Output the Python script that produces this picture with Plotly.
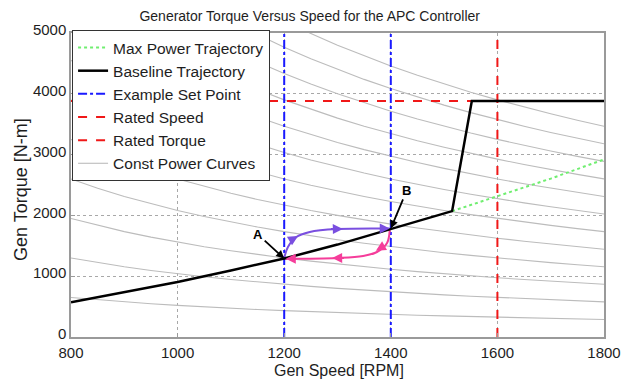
import plotly.graph_objects as go

# ---- data ----
base_speed = [800, 900, 1000, 1100, 1200, 1300, 1400, 1515, 1552, 1800]
base_torque = [570, 735, 905, 1095, 1290, 1520, 1775, 2070, 3880, 3880]

maxp_speed = [1515, 1600, 1700, 1800]
maxp_torque = [2070, 2310, 2605, 2920]

set_points = [1200, 1400]
rated_speed = 1600
rated_torque = 3880
knee_speed = 1552

# constant power levels (torque*speed, N-m*RPM)
power_levels = [0.52e6, 1.04e6, 1.56e6, 2.08e6, 2.60e6, 3.12e6,
                3.64e6, 4.16e6, 4.68e6, 5.20e6, 5.72e6, 6.24e6]
curve_speeds = [800, 850, 900, 950, 1000, 1050, 1100, 1150, 1200, 1250, 1300,
                1350, 1400, 1450, 1500, 1550, 1600, 1650, 1700, 1750, 1800]

purple_speed = [1200, 1207, 1222, 1248, 1300, 1398]
purple_torque = [1300, 1480, 1640, 1727, 1776, 1785]
pink_speed = [1398, 1393, 1374, 1348, 1300, 1202]
pink_torque = [1770, 1546, 1398, 1332, 1299, 1285]

x_ticks = [800, 1000, 1200, 1400, 1600, 1800]
y_ticks = [0, 1000, 2000, 3000, 4000, 5000]

FONT = "Liberation Sans, Arial, sans-serif"
TXT = "#1e1e1e"

fig = go.Figure()

# constant power curves
cx, cy = [], []
for p in power_levels:
    for s in curve_speeds:
        cx.append(s)
        cy.append(p / s)
    cx.append(None)
    cy.append(None)
fig.add_trace(go.Scatter(x=cx, y=cy, mode="lines", name="Const Power Curves",
                         line=dict(color="#bcbcbc", width=1.1), legendrank=6,
                         legendgroup="g6"))

# set points
sx, sy = [], []
for s in set_points:
    sx += [s, s, None]
    sy += [0, 5000, None]
fig.add_trace(go.Scatter(x=sx, y=sy, mode="lines", name="Example Set Point",
                         line=dict(color="#1a1aff", width=2, dash="dashdot"),
                         legendrank=3, legendgroup="g3"))
fig.add_trace(go.Scatter(x=[rated_speed, rated_speed], y=[0, 5000], mode="lines",
                         name="Rated Speed",
                         line=dict(color="#f01818", width=2, dash="dash"),
                         legendrank=4, legendgroup="g4"))
fig.add_trace(go.Scatter(x=[800, knee_speed], y=[rated_torque, rated_torque],
                         mode="lines", name="Rated Torque",
                         line=dict(color="#f01818", width=2, dash="dash"),
                         legendrank=5, legendgroup="g5"))
fig.add_trace(go.Scatter(x=maxp_speed, y=maxp_torque, mode="lines",
                         name="Max Power Trajectory",
                         line=dict(color="#70ee70", width=2, dash="dot"),
                         legendrank=1, legendgroup="g1"))

# transition paths
fig.add_trace(go.Scatter(x=purple_speed, y=purple_torque, mode="lines",
                         line=dict(color="#7a4fe0", width=2, shape="spline"),
                         showlegend=False, hoverinfo="skip"))
fig.add_trace(go.Scatter(x=pink_speed, y=pink_torque, mode="lines",
                         line=dict(color="#f53d9a", width=2, shape="spline"),
                         showlegend=False, hoverinfo="skip"))

fig.add_trace(go.Scatter(x=base_speed, y=base_torque, mode="lines",
                         name="Baseline Trajectory",
                         line=dict(color="black", width=2.5),
                         legendrank=2, legendgroup="g2"))

# arrowheads along paths
def arrow(x, y, ax, ay, color):
    fig.add_annotation(x=x, y=y, ax=ax, ay=ay, xref="x", yref="y",
                       axref="x", ayref="y", text="", showarrow=True,
                       arrowhead=2, arrowsize=1, arrowwidth=2, arrowcolor=color)

arrow(1226, 1662, 1216, 1610, "#7a4fe0")
arrow(1310, 1778, 1285, 1774, "#7a4fe0")
arrow(1398, 1785, 1380, 1786, "#7a4fe0")
arrow(1372, 1420, 1384, 1480, "#f53d9a")
arrow(1290, 1298, 1315, 1301, "#f53d9a")
arrow(1203, 1286, 1225, 1288, "#f53d9a")

# A / B labels
fig.add_annotation(x=1200, y=1290, xref="x", yref="y", text="<b>A</b>",
                   showarrow=True, ax=-26, ay=-24, arrowhead=2, arrowwidth=1.8,
                   arrowsize=0.9, arrowcolor="black",
                   font=dict(family=FONT, size=13, color="black"))
fig.add_annotation(x=1400, y=1785, xref="x", yref="y", text="<b>B</b>",
                   showarrow=True, ax=16, ay=-38, arrowhead=2, arrowwidth=1.8,
                   arrowsize=0.9, arrowcolor="black",
                   font=dict(family=FONT, size=13, color="black"))

# axis titles
fig.add_annotation(text="Gen Speed [RPM]", xref="paper", yref="paper",
                   x=0.503, y=-0.1086, yanchor="middle", xanchor="center",
                   showarrow=False,
                   font=dict(family=FONT, size=16, color=TXT))
fig.add_annotation(text="Gen Torque [N-m]", xref="paper", yref="paper",
                   x=-0.0938, y=0.4836, textangle=-90, xanchor="center",
                   yanchor="middle", showarrow=False,
                   font=dict(family=FONT, size=18, color=TXT))

axis_common = dict(showline=True, linecolor="#9a9a9a", linewidth=1.5, mirror=True,
                   ticks="inside", ticklen=4, tickcolor="#9a9a9a",
                   showgrid=True, gridcolor="#a8a8a8", griddash="dot", gridwidth=1,
                   zeroline=False,
                   tickfont=dict(family=FONT, size=15, color=TXT))

fig.update_xaxes(range=[800, 1800], tickvals=x_ticks, ticklabelstandoff=1,
                 **axis_common)
fig.update_yaxes(range=[0, 5000], tickvals=y_ticks, ticklabelshift=-3,
                 **axis_common)

fig.update_layout(
    width=636, height=383,
    margin=dict(l=71, r=32, t=33, b=46),
    paper_bgcolor="white", plot_bgcolor="white",
    title=dict(text="Generator Torque Versus Speed for the APC Controller",
               xref="container", x=0.487, xanchor="center",
               yref="container", y=0.958, yanchor="middle",
               font=dict(family=FONT, size=14, color=TXT)),
    legend=dict(x=0.002, y=1.01, xanchor="left", yanchor="top",
                bgcolor="white", bordercolor="#333", borderwidth=1,
                font=dict(family=FONT, size=15.5, color=TXT),
                traceorder="grouped", tracegroupgap=0, itemwidth=30),
    showlegend=True,
)

fig.write_html("out.html",
               config={"displayModeBar": False},
               post_script="document.body.style.margin='0px';"
                           "document.body.style.overflow='hidden';")
